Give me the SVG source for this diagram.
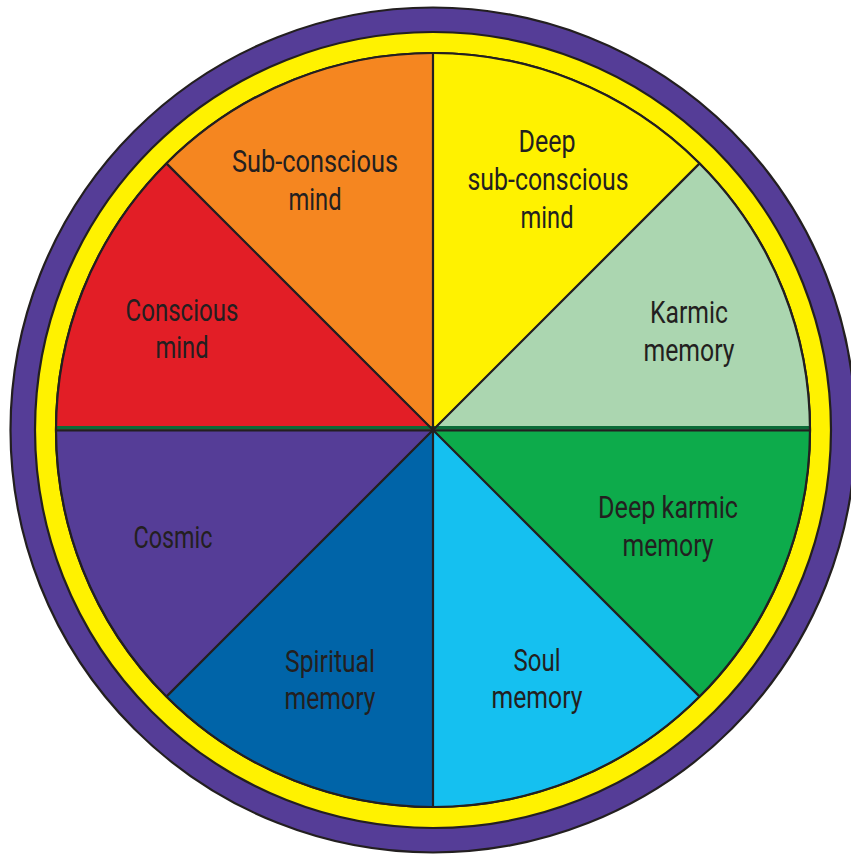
<svg xmlns="http://www.w3.org/2000/svg" width="851" height="856" viewBox="0 0 851 856">
<style>
.ring{stroke:#231F20;stroke-width:2.2}
.w{stroke:#231F20;stroke-width:1.2}
.div{stroke:#231F20;stroke-width:2.2;fill:none}
text{font-family:Roboto,"Liberation Sans",sans-serif;font-size:32px;fill:#231F20;text-anchor:middle}
</style>
<rect width="851" height="856" fill="#ffffff"/>
<g id="rings">
<circle class="ring" cx="433" cy="430" r="422.5" fill="#553D97"/>
<circle class="ring" cx="433" cy="430" r="398" fill="#FFF200"/>
<circle class="ring" cx="433" cy="430" r="377" fill="#ffffff"/>
</g>
<g id="sub-conscious">
<path class="w" d="M433 430 L166.4 163.4 A377 377 0 0 1 433 53 Z" fill="#F58620"/>
<text x="315" y="172" textLength="166" lengthAdjust="spacingAndGlyphs">Sub-conscious</text>
<text x="315" y="210" textLength="53" lengthAdjust="spacingAndGlyphs">mind</text>
</g>
<g id="deep-sub-conscious">
<path class="w" d="M433 430 L433 53 A377 377 0 0 1 699.6 163.4 Z" fill="#FFF200"/>
<text x="547" y="152" textLength="57" lengthAdjust="spacingAndGlyphs">Deep</text>
<text x="548" y="190" textLength="161" lengthAdjust="spacingAndGlyphs">sub-conscious</text>
<text x="547" y="228" textLength="53" lengthAdjust="spacingAndGlyphs">mind</text>
</g>
<g id="karmic">
<path class="w" d="M433 430 L699.6 163.4 A377 377 0 0 1 810 430 Z" fill="#ABD6B0"/>
<text x="689" y="323" textLength="78" lengthAdjust="spacingAndGlyphs">Karmic</text>
<text x="689" y="361" textLength="91" lengthAdjust="spacingAndGlyphs">memory</text>
</g>
<g id="deep-karmic">
<path class="w" d="M433 430 L810 430 A377 377 0 0 1 699.6 696.6 Z" fill="#0DAB4B"/>
<text x="668" y="518" textLength="140" lengthAdjust="spacingAndGlyphs">Deep karmic</text>
<text x="668" y="556" textLength="91" lengthAdjust="spacingAndGlyphs">memory</text>
</g>
<g id="soul">
<path class="w" d="M433 430 L699.6 696.6 A377 377 0 0 1 433 807 Z" fill="#15C0F0"/>
<text x="537" y="671" textLength="47" lengthAdjust="spacingAndGlyphs">Soul</text>
<text x="537" y="708" textLength="91" lengthAdjust="spacingAndGlyphs">memory</text>
</g>
<g id="spiritual">
<path class="w" d="M433 430 L433 807 A377 377 0 0 1 166.4 696.6 Z" fill="#0064A8"/>
<text x="330" y="672" textLength="90" lengthAdjust="spacingAndGlyphs">Spiritual</text>
<text x="330" y="709" textLength="91" lengthAdjust="spacingAndGlyphs">memory</text>
</g>
<g id="cosmic">
<path class="w" d="M433 430 L166.4 696.6 A377 377 0 0 1 56 430 Z" fill="#553D97"/>
<text x="173" y="548" textLength="79" lengthAdjust="spacingAndGlyphs">Cosmic</text>
</g>
<g id="conscious">
<path class="w" d="M433 430 L56 430 A377 377 0 0 1 166.4 163.4 Z" fill="#E21E26"/>
<text x="182" y="321" textLength="113" lengthAdjust="spacingAndGlyphs">Conscious</text>
<text x="182" y="358" textLength="53" lengthAdjust="spacingAndGlyphs">mind</text>
</g>
<g id="connectors">
<rect x="56" y="426" width="754" height="3.5" fill="#0B6B38"/>
<line class="div" x1="56" y1="430.5" x2="810" y2="430.5"/>
<line class="div" x1="433" y1="53" x2="433" y2="807"/>
<line class="div" x1="166.4" y1="163.4" x2="699.6" y2="696.6"/>
<line class="div" x1="699.6" y1="163.4" x2="166.4" y2="696.6"/>
<circle class="ring" cx="433" cy="430" r="377" fill="none"/>
</g>
</svg>
